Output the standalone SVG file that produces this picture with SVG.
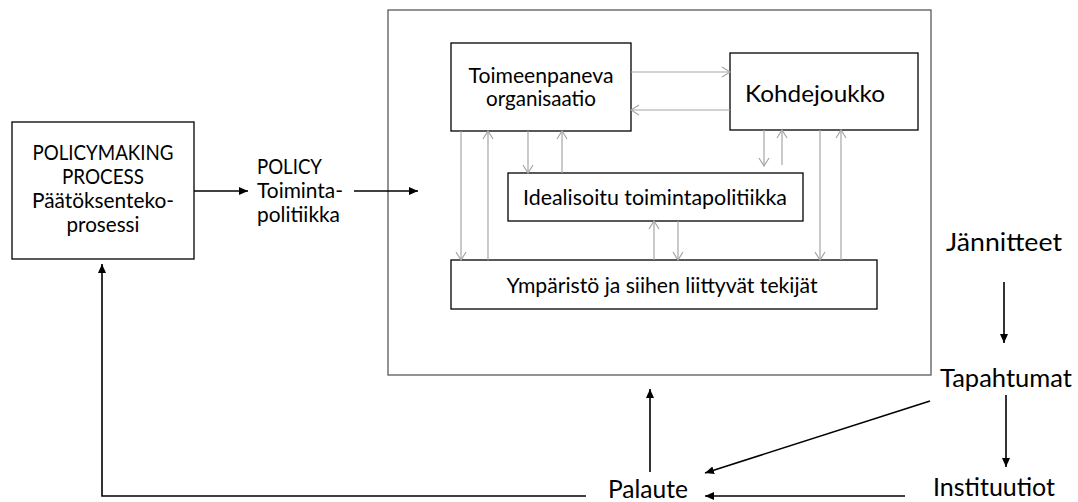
<svg xmlns="http://www.w3.org/2000/svg" width="1078" height="502" viewBox="0 0 1078 502">
<style>
text{font-family:"Lato","Liberation Sans",sans-serif;font-size:21px;fill:#000;text-anchor:middle}
.l{text-anchor:start}
.big{font-size:25.5px}
.box{fill:#fff;stroke:#000;stroke-width:1.3}
.outer{fill:#fff;stroke:#595959;stroke-width:1.3}
.k{stroke:#000;stroke-width:1.6;fill:none;marker-end:url(#ak)}
.g{stroke:#a6a6a6;stroke-width:1.2;fill:none;marker-end:url(#ag)}
</style>
<defs>
<marker id="ak" markerUnits="userSpaceOnUse" markerWidth="9" markerHeight="8" refX="9" refY="4" orient="auto"><path d="M0,0 L9,4 L0,8 z" fill="#000"/></marker>
<marker id="ag" markerUnits="userSpaceOnUse" markerWidth="10" markerHeight="12" refX="9" refY="6" orient="auto"><path d="M1,1 L9,6 L1,11" fill="none" stroke="#a6a6a6" stroke-width="1.2"/></marker>
</defs>
<rect width="1078" height="502" fill="#fff"/>
<g id="outer"><rect class="outer" x="388" y="10" width="543" height="365"/></g>
<g id="policymaking"><rect class="box" x="12" y="122" width="182" height="137"/>
<text x="103" y="160" textLength="141" lengthAdjust="spacingAndGlyphs">POLICYMAKING</text><text x="103" y="184" textLength="82" lengthAdjust="spacingAndGlyphs">PROCESS</text><text x="103" y="208" textLength="142" lengthAdjust="spacingAndGlyphs">Päätöksenteko-</text><text x="103" y="232" textLength="73" lengthAdjust="spacingAndGlyphs">prosessi</text></g>
<g id="policy"><text class="l" x="257" y="174" textLength="65" lengthAdjust="spacingAndGlyphs">POLICY</text><text class="l" x="257" y="198" textLength="86" lengthAdjust="spacingAndGlyphs">Toiminta-</text><text class="l" x="257" y="222" textLength="83" lengthAdjust="spacingAndGlyphs">politiikka</text></g>
<g id="toimeenpaneva"><rect class="box" x="451" y="43" width="180" height="88"/>
<text x="541" y="83" textLength="145" lengthAdjust="spacingAndGlyphs">Toimeenpaneva</text><text x="541" y="106" textLength="110" lengthAdjust="spacingAndGlyphs">organisaatio</text></g>
<g id="kohdejoukko"><rect class="box" x="730" y="53" width="188" height="77"/>
<text x="815" y="102" style="font-size:22.5px" textLength="140" lengthAdjust="spacingAndGlyphs">Kohdejoukko</text></g>
<g id="idealisoitu"><rect class="box" x="508" y="173" width="295" height="48"/>
<text x="655" y="205" textLength="264" lengthAdjust="spacingAndGlyphs">Idealisoitu toimintapolitiikka</text></g>
<g id="ymparisto"><rect class="box" x="451" y="260" width="426" height="49"/>
<text x="662" y="293" textLength="311" lengthAdjust="spacingAndGlyphs">Ympäristö ja siihen liittyvät tekijät</text></g>
<g id="jannitteet"><text class="big" x="1004" y="251" textLength="116" lengthAdjust="spacingAndGlyphs">Jännitteet</text></g>
<g id="tapahtumat"><text class="big" x="1006" y="387" textLength="132" lengthAdjust="spacingAndGlyphs">Tapahtumat</text></g>
<g id="instituutiot"><text class="big" x="994" y="496" textLength="122" lengthAdjust="spacingAndGlyphs">Instituutiot</text></g>
<g id="palaute"><text class="big" x="648" y="498" textLength="80" lengthAdjust="spacingAndGlyphs">Palaute</text></g>
<g id="connectors">
<path class="k" d="M194,191 H248"/>
<path class="k" d="M354,191 H418"/>
<path class="k" d="M1004,282 V343"/>
<path class="k" d="M1006,395 V467"/>
<path class="k" d="M930,401 L705,473"/>
<path class="k" d="M905,496 H705"/>
<path class="k" d="M650,472 V389"/>
<path class="k" d="M586,496 H102 V264"/>
<path class="g" d="M631,72 H730"/>
<path class="g" d="M730,110 H631"/>
<path class="g" d="M461,131 V260"/>
<path class="g" d="M488,260 V131"/>
<path class="g" d="M528,131 V173"/>
<path class="g" d="M562,173 V131"/>
<path class="g" d="M764,130 V166"/>
<path class="g" d="M782,165 V130"/>
<path class="g" d="M820,130 V260"/>
<path class="g" d="M841,260 V130"/>
<path class="g" d="M654,260 V221"/>
<path class="g" d="M678,221 V260"/>
</g>
</svg>
